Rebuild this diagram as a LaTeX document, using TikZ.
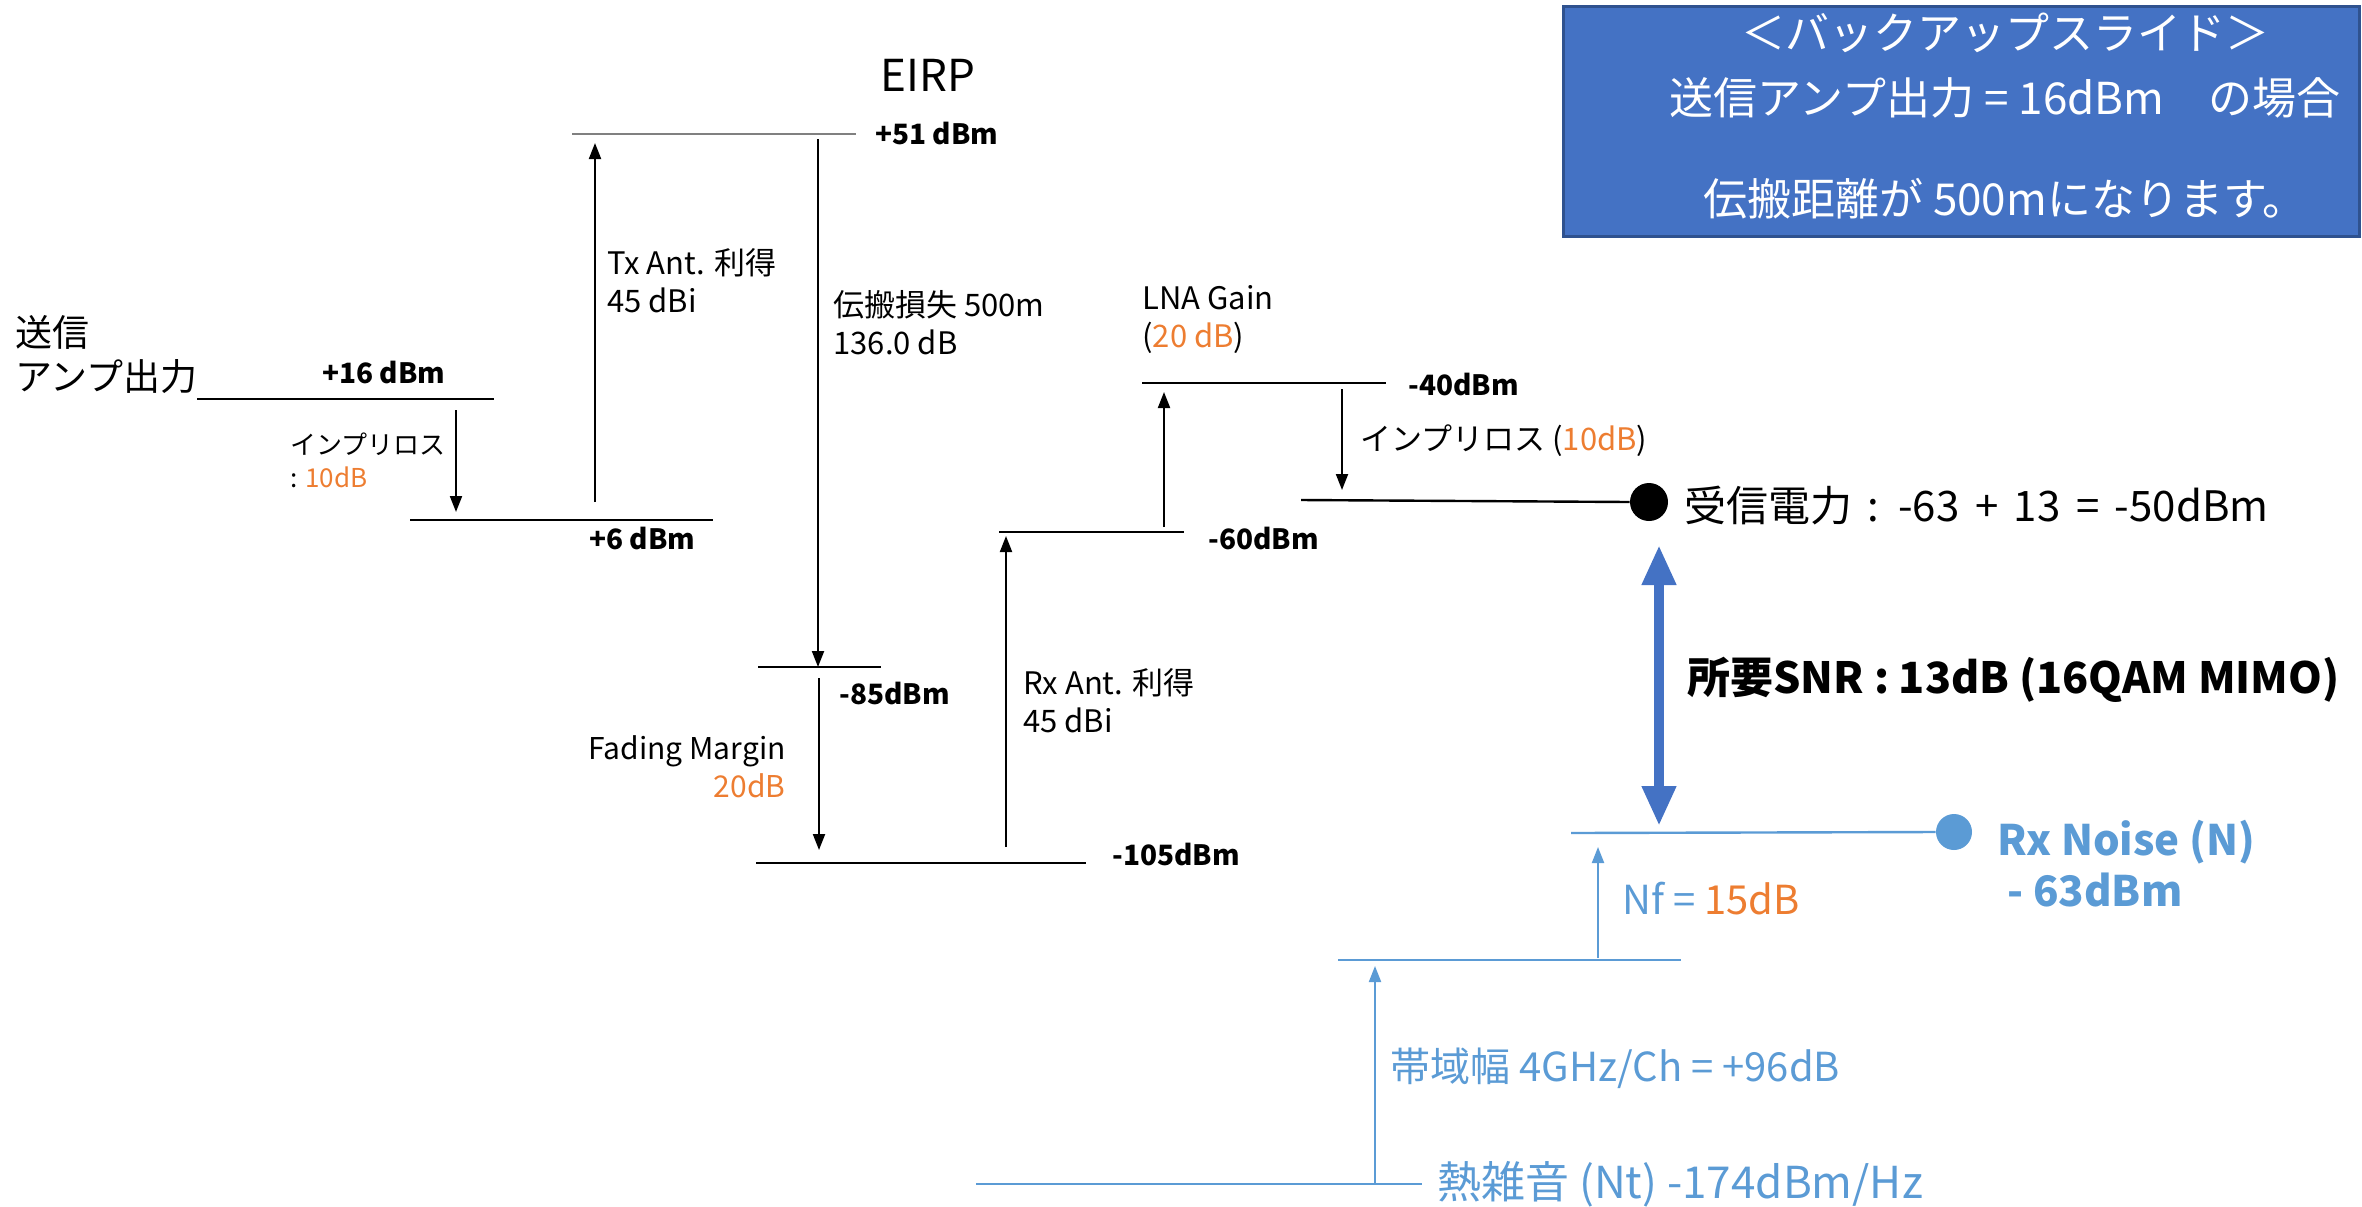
\documentclass[tikz,border=0pt]{standalone}
\usepackage{fontspec}
\setmainfont{Noto Sans CJK JP}
\usetikzlibrary{arrows.meta}
\definecolor{lossorange}{HTML}{ED7D31}
\definecolor{noiseblue}{HTML}{5B9BD5}
\definecolor{snrblue}{HTML}{4472C4}
\definecolor{boxedge}{HTML}{2F528F}
\newcommand{\fsz}[2]{\fontsize{#1}{#2}\selectfont}
\tikzset{
  level/.style={line width=1.2pt},
  gainarrow/.style={line width=1pt, -{Triangle[length=8pt,width=6pt]}},
  dbm/.style={font=\bfseries\fsz{14}{17}, anchor=west, inner sep=0pt},
  note/.style={font=\fsz{15.5}{19}, anchor=west, align=left, inner sep=0pt},
  dot/.style={circle, inner sep=0pt, minimum size=#1},
}
\begin{document}
\begin{tikzpicture}[x=0.5pt, y=-0.5pt]
  \useasboundingbox (0,0) rectangle (2362,1206);

  % backup slide box
  \draw[fill=snrblue, draw=boxedge, line width=1.5pt] (1563,6) rectangle (2359,236);
  \node[font=\fsz{22}{26}, text=white] (bkTitle) at (2005,33) {＜バックアップスライド＞};
  \node[font=\fsz{22}{26}, text=white] (bkAmp) at (2005,98) {送信アンプ出力 = 16dBm　の場合};
  \node[font=\fsz{22}{26}, text=white] (bkDist) at (2005,199) {伝搬距離が 500mになります。};

  % transmit side levels
  \draw[level] (197,399) -- (494,399);
  \draw[level] (410,520) -- (713,520);
  \draw[level, draw=gray] (572,134) -- (856,134);
  \draw[level] (758,667) -- (881,667);
  \draw[level] (756,863) -- (1086,863);
  \draw[level] (999,532) -- (1184,532);
  \draw[level] (1142,383) -- (1386,383);

  \node[font=\fsz{18.5}{22}, anchor=west, align=left, inner sep=0pt] (txAmp) at (15,355) {送信\\アンプ出力};
  \node[dbm] (lv16) at (322,372) {+16 dBm};
  \node[dbm] (lv6) at (589,538) {+6 dBm};
  \node[font=\fsz{22}{26}, anchor=west, inner sep=0pt] (eirp) at (880,75) {EIRP};
  \node[dbm] (lv51) at (875,134) {+51 dBm};
  \node[dbm] (lv85) at (839,693) {-85dBm};
  \node[dbm] (lv105) at (1112,854) {-105dBm};
  \node[dbm] (lv60) at (1208,538) {-60dBm};
  \node[dbm] (lv40) at (1408,384) {-40dBm};

  % gains and losses
  \coordinate (ipA) at (456,410);  \coordinate (ipB) at (456,512);
  \coordinate (txA) at (595,502);  \coordinate (txB) at (595,143);
  \coordinate (plA) at (818,139);  \coordinate (plB) at (818,667);
  \coordinate (fmA) at (819,678);  \coordinate (fmB) at (819,850);
  \coordinate (rxA) at (1006,847); \coordinate (rxB) at (1006,536);
  \coordinate (lnA) at (1164,527); \coordinate (lnB) at (1164,392);
  \coordinate (iqA) at (1342,389); \coordinate (iqB) at (1342,490);
  \draw[gainarrow] (ipA) -- (ipB);
  \draw[gainarrow] (txA) -- (txB);
  \draw[gainarrow] (plA) -- (plB);
  \draw[gainarrow] (fmA) -- (fmB);
  \draw[gainarrow] (rxA) -- (rxB);
  \draw[gainarrow] (lnA) -- (lnB);
  \draw[gainarrow] (iqA) -- (iqB);

  \node[font=\fsz{13}{16.5}, anchor=west, align=left, inner sep=0pt] (ipLbl) at (290,460)
    {インプリロス\\: \textcolor{lossorange}{10dB}};
  \node[note] (txLbl) at (607,281) {Tx Ant. 利得\\45 dBi};
  \node[note] (plLbl) at (833,323) {伝搬損失 500m\\136.0 dB};
  \node[note, font=\fsz{15}{19}, anchor=east, align=right] (fmLbl) at (786,767) {Fading Margin\\\textcolor{lossorange}{20dB}};
  \node[note] (rxLbl) at (1023,701) {Rx Ant. 利得\\45 dBi};
  \node[note] (lnLbl) at (1142,320) {LNA Gain\\(\textcolor{lossorange}{20 dB})};
  \node[note] (iqLbl) at (1360,441) {インプリロス (\textcolor{lossorange}{10dB})};

  % received power
  \node[dot=19pt, fill=black] (rxDot) at (1649,502) {};
  \draw[level] (1301,500) -- (rxDot.west);
  \node[font=\fsz{21}{25}, anchor=west, inner sep=0pt] (rxPow) at (1684,506)
    {\spaceskip=0.37em\relax 受信電力 : -63 + 13 = -50dBm};

  % noise side
  \draw[level, draw=noiseblue] (976,1184) -- (1422,1184);
  \draw[level, draw=noiseblue] (1338,960) -- (1681,960);
  \node[dot=18pt, fill=noiseblue] (nzDot) at (1954,832) {};
  \draw[level, draw=noiseblue] (1571,833) -- (nzDot.west);
  \coordinate (bwA) at (1375,1184); \coordinate (bwB) at (1375,966);
  \coordinate (nfA) at (1598,958);  \coordinate (nfB) at (1598,847);
  \draw[gainarrow, draw=noiseblue, fill=noiseblue] (bwA) -- (bwB);
  \draw[gainarrow, draw=noiseblue, fill=noiseblue] (nfA) -- (nfB);

  \node[font=\fsz{22}{25}, anchor=west, inner sep=0pt, text=noiseblue] (ntLbl) at (1437,1184) {熱雑音 (Nt) -174dBm/Hz};
  \node[font=\fsz{20}{24}, anchor=west, inner sep=0pt, text=noiseblue] (bwLbl) at (1390,1068) {帯域幅 4GHz/Ch = +96dB};
  \node[font=\fsz{20}{24}, anchor=west, inner sep=0pt, text=noiseblue] (nfLbl) at (1622,899) {Nf = \textcolor{lossorange}{15dB}};
  \node[font=\bfseries\fsz{21}{25.5}, anchor=west, align=left, inner sep=0pt, text=noiseblue] (nzLbl) at (1997,864)
    {Rx Noise (N)\\\hspace*{5pt}- 63dBm};

  % required SNR
  \coordinate (snA) at (1659,545); \coordinate (snB) at (1659,826);
  \draw[draw=snrblue, fill=snrblue, line width=5pt, {Triangle[length=20pt,width=16pt]}-{Triangle[length=20pt,width=16pt]}] (snA) -- (snB);
  \node[font=\bfseries\fsz{21.5}{25}, anchor=west, inner sep=0pt] (snLbl) at (1687,680) {所要SNR : 13dB (16QAM MIMO)};
\end{tikzpicture}
\end{document}
